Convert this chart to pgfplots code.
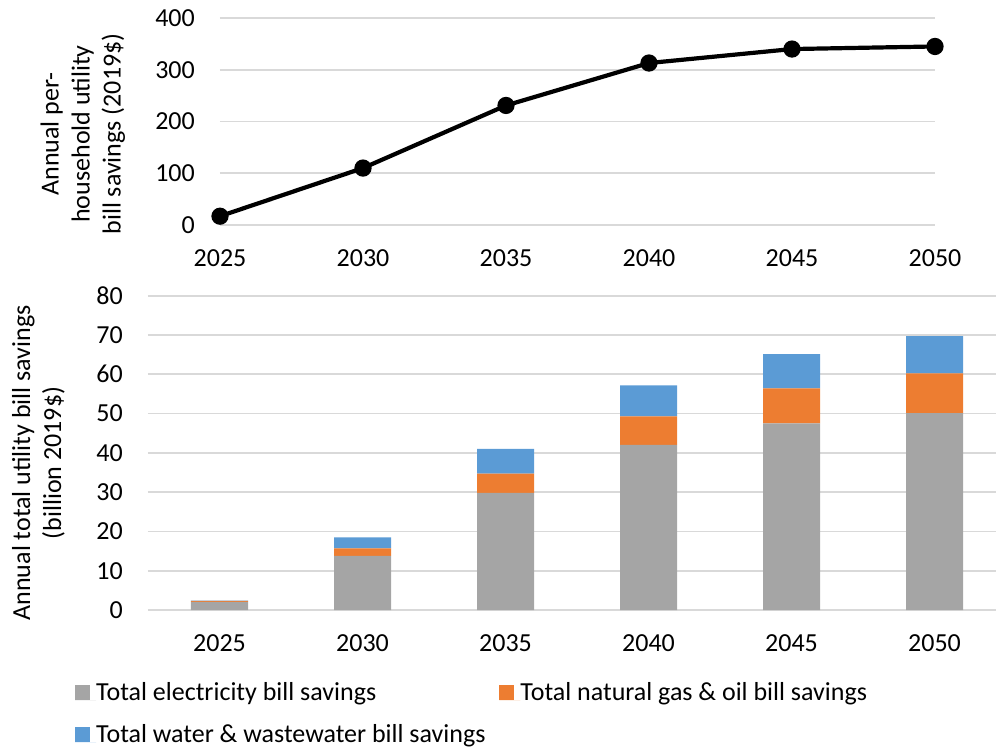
\documentclass[border=0pt]{standalone}
\usepackage{fontspec}
\setmainfont{Carlito}
\usepackage{pgfplots}
\pgfplotsset{compat=1.18}

\definecolor{elecgray}{HTML}{A5A5A5}
\definecolor{gasorange}{HTML}{ED7D31}
\definecolor{waterblue}{HTML}{5B9BD5}
\definecolor{gridgray}{HTML}{D9D9D9}

\pgfplotsset{
  excelstyle/.style={
    scale only axis,
    anchor=south west,
    axis line style={draw=none},
    tick style={draw=none},
    ymajorgrids,
    grid style={color=gridgray, line width=1.6pt},
    /pgf/number format/assume math mode=true,
    /pgf/number format/1000 sep={},
    xticklabel style={anchor=center, inner sep=0pt, yshift=-33pt},
    yticklabel style={anchor=east, inner sep=0pt, xshift=-25pt},
    ylabel style={anchor=center, align=center, inner sep=0pt},
    clip=false,
  }
}

\begin{document}
\fontsize{26}{31}\selectfont
\begin{tikzpicture}[x=1pt,y=1pt]

% Per-household savings (line)
\begin{axis}[excelstyle,
  at={(220pt,523pt)},
  width=715pt, height=207pt,
  xmin=0, xmax=5, ymin=0, ymax=400,
  xtick={0,...,5},
  xticklabels={2025,2030,2035,2040,2045,2050},
  ytick={0,100,...,400},
  ylabel={Annual per-\\household utility\\bill savings (2019\$)},
  ylabel style={at={(axis description cs:-0.192,0.44)}},
]
\addplot[black, line width=4.2pt, mark=*, mark size=6.5pt,
  mark options={fill=black}]
  coordinates {(0,17) (1,110) (2,231) (3,313) (4,340) (5,345)};
\end{axis}

% Total savings by utility (stacked bars)
\begin{axis}[excelstyle,
  at={(148pt,138pt)},
  width=858pt, height=314.3pt,
  ybar stacked, bar width=57pt,
  xmin=-0.5, xmax=5.5, ymin=0, ymax=80,
  xtick={0,...,5},
  xticklabels={2025,2030,2035,2040,2045,2050},
  ytick={0,10,...,80},
  ylabel={Annual total utility bill savings\\(billion 2019\$)},
  ylabel style={at={(axis description cs:-0.1276,0.468)}},
  legend columns=2,
  legend style={
    at={(axis description cs:-0.0851,-0.229)}, anchor=north west,
    draw=none, fill=none, inner sep=0pt, row sep=20pt,
    nodes={inner sep=0pt, anchor=base west},
    /tikz/every even column/.append style={column sep=14pt},
  },
  legend image code/.code={
    \fill[#1, draw=none] (0pt,0pt) rectangle (15pt,15pt);
    \path (0pt,0pt) -- (21pt,0pt);
  },
]
\addplot[fill=elecgray, draw=none]
  coordinates {(0,2.1) (1,13.8) (2,29.8) (3,42.0) (4,47.5) (5,50.1)};
\addplot[fill=gasorange, draw=none]
  coordinates {(0,0.2) (1,1.9) (2,4.9) (3,7.3) (4,8.9) (5,10.1)};
\addplot[fill=waterblue, draw=none]
  coordinates {(0,0.1) (1,2.8) (2,6.3) (3,7.9) (4,8.7) (5,9.5)};
\legend{Total electricity bill savings,
        Total natural gas \& oil bill savings,
        Total water \& wastewater bill savings}
\end{axis}

\pgfresetboundingbox
\path[use as bounding box] (0pt,0pt) rectangle (996pt,748pt);
\end{tikzpicture}
\end{document}
